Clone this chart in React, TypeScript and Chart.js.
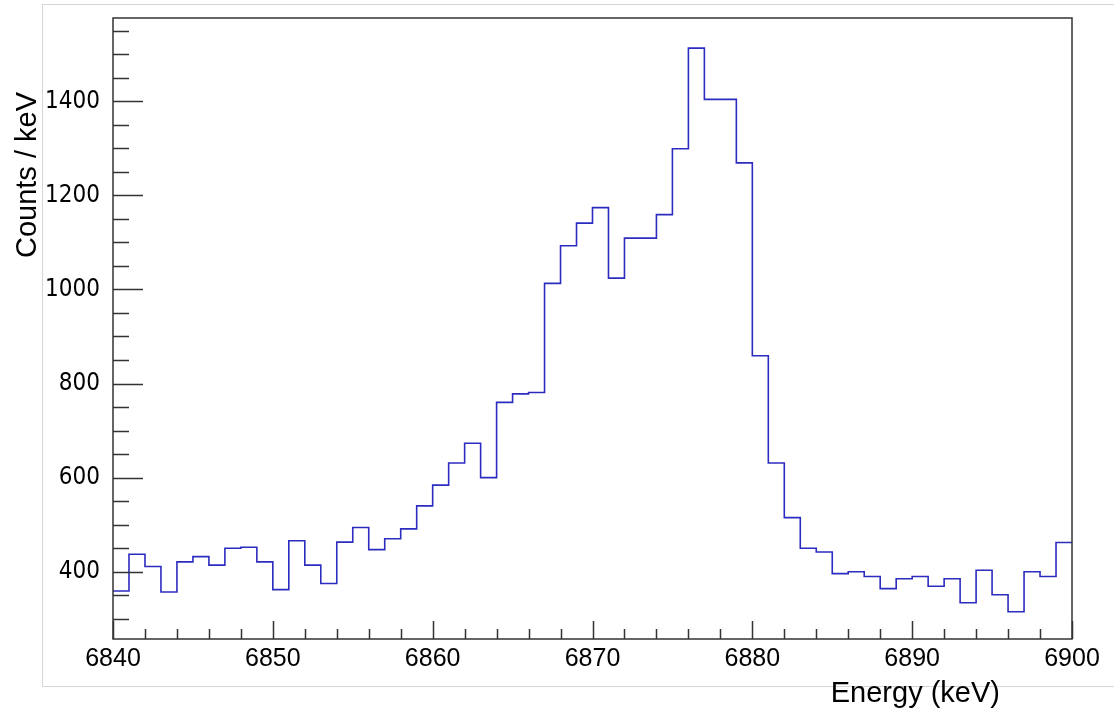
import React, { useEffect, useRef } from "react";
import { Chart, registerables } from "chart.js";

Chart.register(...registerables);

// ---- data ----
const binLowEdges = [
  6840, 6841, 6842, 6843, 6844, 6845, 6846, 6847, 6848, 6849,
  6850, 6851, 6852, 6853, 6854, 6855, 6856, 6857, 6858, 6859,
  6860, 6861, 6862, 6863, 6864, 6865, 6866, 6867, 6868, 6869,
  6870, 6871, 6872, 6873, 6874, 6875, 6876, 6877, 6878, 6879,
  6880, 6881, 6882, 6883, 6884, 6885, 6886, 6887, 6888, 6889,
  6890, 6891, 6892, 6893, 6894, 6895, 6896, 6897, 6898, 6899,
];
const binWidth = 1;
const counts = [
  359, 437, 411, 357, 421, 432, 414, 450, 452, 421,
  362, 466, 414, 375, 463, 494, 447, 470, 491, 540,
  584, 631, 673, 600, 760, 778, 781, 1013, 1093, 1141,
  1174, 1024, 1109, 1109, 1159, 1299, 1513, 1404, 1404, 1269,
  859, 631, 515, 450, 442, 396, 400, 390, 364, 385,
  390, 369, 385, 334, 403, 351, 315, 400, 390, 462,
];
const xMajorTicks = [6840, 6850, 6860, 6870, 6880, 6890, 6900];
const xMinorTicks = [
  6842, 6844, 6846, 6848, 6852, 6854, 6856, 6858, 6862, 6864, 6866, 6868,
  6872, 6874, 6876, 6878, 6882, 6884, 6886, 6888, 6892, 6894, 6896, 6898,
];
const yMajorTicks = [400, 600, 800, 1000, 1200, 1400];
const yMinorTicks = [
  300, 350, 450, 500, 550, 650, 700, 750, 850, 900, 950, 1050, 1100, 1150,
  1250, 1300, 1350, 1450, 1500, 1550,
];
const xRange = [6840, 6900];
const yRange = [257, 1577];
const xTitle = "Energy (keV)";
const yTitle = "Counts / keV";

const FONT = "'Liberation Sans', Arial, Helvetica, sans-serif";
const NARROW = "'Liberation Sans Narrow', 'Arial Narrow', 'DejaVu Sans Condensed', sans-serif";
const AXIS_COLOR = "#333333";

const rootStyle = {
  id: "rootStyle",
  beforeDraw(chart: any) {
    const { ctx, width, height } = chart;
    ctx.save();
    ctx.fillStyle = "#ffffff";
    ctx.fillRect(0, 0, width, height);
    ctx.strokeStyle = "#d6d6d6";
    ctx.lineWidth = 1;
    ctx.strokeRect(42.5, 4.5, width, 682);
    ctx.restore();
  },
  afterDraw(chart: any) {
    const { ctx, chartArea } = chart;
    const xs = chart.scales.x;
    const ys = chart.scales.y;
    ctx.save();
    ctx.strokeStyle = AXIS_COLOR;
    ctx.lineWidth = 1.5;
    ctx.strokeRect(
      chartArea.left,
      chartArea.top,
      chartArea.right - chartArea.left,
      chartArea.bottom - chartArea.top
    );
    ctx.beginPath();
    yMajorTicks.forEach((v) => {
      const p = Math.round(ys.getPixelForValue(v)) + 0.5;
      ctx.moveTo(chartArea.left, p);
      ctx.lineTo(chartArea.left + 30, p);
    });
    yMinorTicks.forEach((v) => {
      const p = Math.round(ys.getPixelForValue(v)) + 0.5;
      ctx.moveTo(chartArea.left, p);
      ctx.lineTo(chartArea.left + 16, p);
    });
    xMajorTicks.forEach((v) => {
      const p = Math.round(xs.getPixelForValue(v)) + 0.5;
      ctx.moveTo(p, chartArea.bottom);
      ctx.lineTo(p, chartArea.bottom - 18);
    });
    xMinorTicks.forEach((v) => {
      const p = Math.round(xs.getPixelForValue(v)) + 0.5;
      ctx.moveTo(p, chartArea.bottom);
      ctx.lineTo(p, chartArea.bottom - 10);
    });
    ctx.stroke();

    ctx.fillStyle = "#000000";
    ctx.font = `29px ${FONT}`;
    ctx.textAlign = "right";
    ctx.textBaseline = "alphabetic";
    ctx.fillText(xTitle, 1000, 702);

    ctx.translate(36, 175);
    ctx.rotate(-Math.PI / 2);
    ctx.textAlign = "center";
    ctx.fillText(yTitle, 0, 0);
    ctx.restore();
  },
};

export default function App() {
  const canvasRef = useRef<HTMLCanvasElement | null>(null);

  useEffect(() => {
    const canvas = canvasRef.current;
    if (!canvas) return;
    const points = binLowEdges.map((x, i) => ({ x, y: counts[i] }));
    points.push({
      x: binLowEdges[binLowEdges.length - 1] + binWidth,
      y: counts[counts.length - 1],
    });

    const chart = new Chart(canvas, {
      type: "line",
      data: {
        datasets: [
          {
            data: points,
            stepped: "before",
            borderColor: "#2c2cc0",
            borderWidth: 1.6,
            pointRadius: 0,
            fill: false,
          },
        ],
      },
      options: {
        animation: false,
        responsive: false,
        maintainAspectRatio: false,
        layout: { padding: { top: 18, right: 42, left: 0, bottom: 0 } },
        plugins: {
          legend: { display: false },
          tooltip: { enabled: false },
          title: { display: false },
        },
        scales: {
          x: {
            type: "linear",
            min: xRange[0],
            max: xRange[1],
            grid: { display: false, drawTicks: false },
            border: { display: false },
            afterBuildTicks: (scale: any) => {
              scale.ticks = xMajorTicks.map((v) => ({ value: v }));
            },
            afterFit: (scale: any) => {
              scale.height = 71;
              scale.paddingLeft = 0;
              scale.paddingRight = 0;
              scale.paddingTop = 0;
              scale.paddingBottom = 0;
            },
            ticks: {
              autoSkip: false,
              maxRotation: 0,
              minRotation: 0,
              padding: 5,
              color: "#000000",
              font: { family: FONT, size: 25 },
              callback: (v: any) => String(v),
            },
          },
          y: {
            type: "linear",
            min: yRange[0],
            max: yRange[1],
            grid: { display: false, drawTicks: false },
            border: { display: false },
            afterBuildTicks: (scale: any) => {
              scale.ticks = yMajorTicks.map((v) => ({ value: v }));
            },
            afterFit: (scale: any) => {
              scale.width = 113;
              scale.paddingLeft = 0;
              scale.paddingRight = 0;
              scale.paddingTop = 0;
              scale.paddingBottom = 0;
            },
            ticks: {
              autoSkip: false,
              padding: 13,
              color: "#000000",
              font: { family: NARROW, size: 24 },
              callback: (v: any) => String(v),
            },
          },
        },
      },
      plugins: [rootStyle],
    });
    return () => chart.destroy();
  }, []);

  return (
    <div
      style={{
        position: "absolute",
        left: 0,
        top: 0,
        width: 1114,
        height: 710,
        background: "#ffffff",
      }}
    >
      <canvas
        ref={canvasRef}
        width={1114}
        height={710}
        style={{ display: "block", width: 1114, height: 710 }}
      />
    </div>
  );
}
